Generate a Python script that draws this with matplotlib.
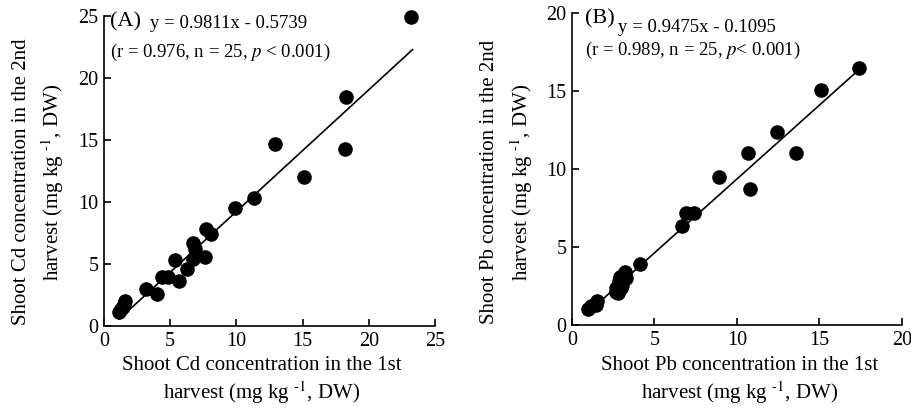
import matplotlib
matplotlib.use("Agg")
from matplotlib import pyplot as plt
import numpy as np

plt.rcParams['font.family'] = ['Liberation Serif', 'DejaVu Serif']
plt.rcParams['mathtext.fontset'] = 'stix'

# (A) Cd, 1st harvest vs 2nd harvest
cd_1st = [1.1, 1.3, 1.5, 1.6, 1.4, 3.2, 4.0, 4.4, 4.8, 5.4, 5.7, 6.3, 6.7, 6.7, 6.9,
          7.6, 7.7, 8.1, 9.9, 11.3, 12.9, 15.1, 18.3, 18.2, 23.2]
cd_2nd = [1.15, 1.4, 1.75, 2.0, 1.5, 3.0, 2.55, 3.95, 3.95, 5.3, 3.65, 4.6, 6.7, 5.4, 6.2,
          5.6, 7.8, 7.4, 9.5, 10.3, 14.7, 12.0, 18.5, 14.3, 24.9]
cd_coef = (0.9811, -0.5739)

# (B) Pb
pb_1st = [0.95, 1.15, 1.5, 1.45, 2.7, 2.8, 2.85, 2.9, 3.0, 3.1, 3.2, 3.3, 2.7, 3.05,
          4.1, 6.7, 6.9, 7.4, 8.9, 10.7, 10.8, 12.4, 13.6, 15.1, 17.4]
pb_2nd = [1.05, 1.2, 1.55, 1.3, 2.4, 2.05, 2.85, 3.1, 2.4, 2.9, 3.4, 3.0, 2.1, 2.6,
          3.9, 6.35, 7.2, 7.2, 9.5, 11.05, 8.7, 12.4, 11.05, 15.05, 16.5]
pb_coef = (0.9475, -0.1095)

fig = plt.figure(figsize=(9.12, 4.09), dpi=100)

ax1 = fig.add_axes([0.114, 0.203, 0.363, 0.758])
ax2 = fig.add_axes([0.627, 0.205, 0.362, 0.763])

unit = "harvest (mg kg $^{\\text{-1}}$, DW)"


def style(ax, lim, step):
    ax.set_xlim(0, lim)
    ax.set_ylim(0, lim)
    ax.set_xticks(np.arange(0, lim + 1, step))
    ax.set_yticks(np.arange(0, lim + 1, step))
    for s in ['top', 'right']:
        ax.spines[s].set_visible(False)
    for s in ['left', 'bottom']:
        ax.spines[s].set_linewidth(1.2)
    ax.tick_params(direction='in', length=5, width=1.2, labelsize=14.5, pad=4)


def labels(xc, ylx1, ylx2, metal):
    # x 轴标题（两行）
    fig.text(xc / 912, 1 - 365 / 409, "Shoot %s concentration in the 1st" % metal,
             fontsize=15, ha='center', va='center')
    fig.text(xc / 912, 1 - 393 / 409, unit, fontsize=15, ha='center', va='center')
    # y 轴标题（两行）
    fig.text(ylx1 / 912, 1 - 182 / 409, "Shoot %s concentration in the 2nd" % metal,
             fontsize=15, ha='center', va='center', rotation=90)
    fig.text(ylx2 / 912, 1 - 182 / 409, unit, fontsize=15, ha='center', va='center', rotation=90)


# 绘制 A
ax1.scatter(cd_1st, cd_2nd, s=90, color='black', zorder=3, clip_on=False)
xa = np.array([1.15, 23.3])
ax1.plot(xa, cd_coef[0] * xa + cd_coef[1], color='black', lw=1.2)
style(ax1, 25, 5)
labels(262, 22, 53, "Cd")
fig.text(110 / 912, 1 - 22 / 409, "(A)", fontsize=16, va='center')
fig.text(150 / 912, 1 - 23 / 409, "y = 0.9811x - 0.5739", fontsize=13.5, va='center')
fig.text(110 / 912, 1 - 52 / 409, "(r = 0.976, n = 25, $p$ < 0.001)", fontsize=13.5, va='center')

# 绘制 B
ax2.scatter(pb_1st, pb_2nd, s=90, color='black', zorder=3, clip_on=False)
xb = np.array([0.95, 17.4])
ax2.plot(xb, pb_coef[0] * xb + pb_coef[1], color='black', lw=1.2)
style(ax2, 20, 5)
labels(740, 490, 522, "Pb")
fig.text(585 / 912, 1 - 19 / 409, "(B)", fontsize=16, va='center')
fig.text(618 / 912, 1 - 27 / 409, "y = 0.9475x - 0.1095", fontsize=13.5, va='center')
fig.text(585 / 912, 1 - 50 / 409, "(r = 0.989, n = 25, $p$< 0.001)", fontsize=13.5, va='center')

plt.savefig('out.png', dpi=100)
